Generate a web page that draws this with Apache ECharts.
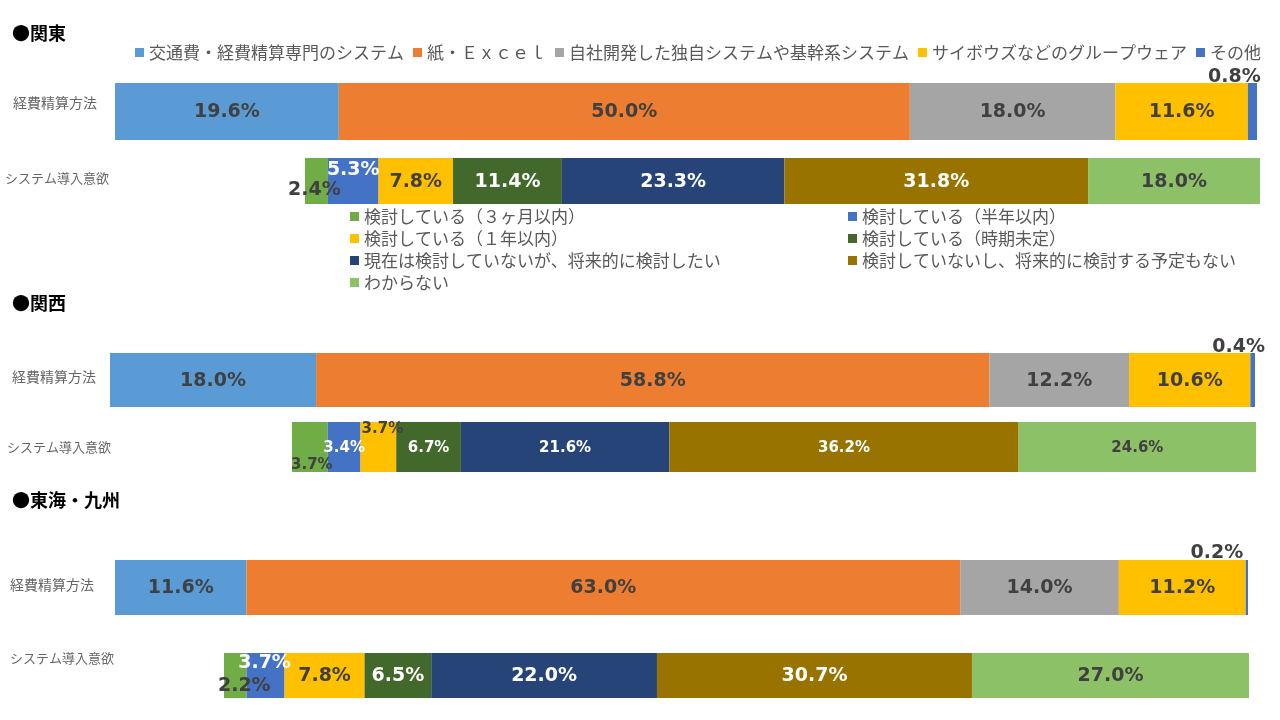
<!DOCTYPE html>
<html><head><meta charset="utf-8">
<script src="https://cdn.jsdelivr.net/npm/echarts@6/dist/echarts.min.js"></script>
<style>html,body{margin:0;padding:0;background:#fff}#c{width:1280px;height:720px}</style>
</head><body><div id="c"></div>
<script>
const regions = ['●関東', '●関西', '●東海・九州'];
const categories = ['経費精算方法', 'システム導入意欲'];
const methodNames = ['交通費・経費精算専門のシステム', '紙・Ｅｘｃｅｌ', '自社開発した独自システムや基幹系システム', 'サイボウズなどのグループウェア', 'その他'];
const intentNames = ['検討している（３ヶ月以内）', '検討している（半年以内）', '検討している（１年以内）', '検討している（時期未定）', '現在は検討していないが、将来的に検討したい', '検討していないし、将来的に検討する予定もない', 'わからない'];
const methodKanto = [19.6, 50.0, 18.0, 11.6, 0.8];
const methodKansai = [18.0, 58.8, 12.2, 10.6, 0.4];
const methodTokai = [11.6, 63.0, 14.0, 11.2, 0.2];
const intentKanto = [2.4, 5.3, 7.8, 11.4, 23.3, 31.8, 18.0];
const intentKansai = [3.7, 3.4, 3.7, 6.7, 21.6, 36.2, 24.6];
const intentTokai = [2.2, 3.7, 7.8, 6.5, 22.0, 30.7, 27.0];

const methodColors = ['#5B9BD5', '#ED7D31', '#A5A5A5', '#FFC000', '#4472C4'];
const intentColors = ['#70AD47', '#4472C4', '#FFC000', '#43682B', '#264478', '#997300', '#8CC168'];
const dark = '#404040', white = '#FFFFFF';
const methodLabelColors = [dark, dark, dark, dark, dark];
const intentLabelColors = [dark, white, dark, white, white, white, dark];

// layout: [left, top, width, height, labelX, labelDy, labelFontSize]
const layout = [
  [115, 83, 1142, 57, 13, -8.5, 19],
  [305, 158, 955, 46, 5, -3, 19],
  [110, 353, 1145, 54, 12, -3, 19],
  [292, 422, 965, 50, 7, 0, 15],
  [115, 560, 1133, 55, 10, -2.5, 19],
  [224, 653, 1026, 45, 10, -17.5, 19]
];
const titleTops = [24, 294, 491];
// offsets for labels of thin segments: [dx, dy, color]
const labelTweaks = {
  '0-4': [-18, -34, dark], '1-0': [-2, 9, dark], '1-1': [0, -11, white],
  '2-4': [-14, -33, dark], '3-0': [2, 18, dark], '3-2': [4, -18, dark],
  '4-4': [-30, -34, dark], '5-0': [9, 10.5, dark], '5-1': [-1, -12.5, white]
};

const barData = [methodKanto, intentKanto, methodKansai, intentKansai, methodTokai, intentTokai];
const grids = [], xAxes = [], yAxes = [], series = [];
layout.forEach((L, g) => {
  const isMethod = g % 2 === 0;
  grids.push({left: L[0], top: L[1], width: L[2], height: L[3], containLabel: false});
  xAxes.push({type: 'value', gridIndex: g, min: 0, max: 100, show: false});
  const dy = L[5];
  const lab = {
    align: 'left', margin: L[0] - L[4], color: '#666666',
    fontFamily: 'Noto Sans CJK JP', fontSize: isMethod ? 14 : 13
  };
  if (dy < 0) { lab.verticalAlign = 'bottom'; lab.lineHeight = -2 * dy; }
  else if (dy > 0) { lab.verticalAlign = 'top'; lab.lineHeight = 2 * dy; }
  else { lab.verticalAlign = 'middle'; }
  yAxes.push({
    type: 'category', gridIndex: g, data: [categories[isMethod ? 0 : 1]],
    axisLine: {show: false}, axisTick: {show: false}, splitLine: {show: false},
    axisLabel: lab
  });
  const names = isMethod ? methodNames : intentNames;
  const colors = isMethod ? methodColors : intentColors;
  const lcolors = isMethod ? methodLabelColors : intentLabelColors;
  barData[g].forEach((v, i) => {
    const tw = labelTweaks[g + '-' + i];
    const item = {value: v};
    if (tw) item.label = {offset: [tw[0], tw[1]], color: tw[2]};
    series.push({
      name: names[i], type: 'bar', xAxisIndex: g, yAxisIndex: g, stack: 's' + g,
      barWidth: '100%', itemStyle: {color: colors[i]},
      label: {
        show: true, position: 'inside', color: lcolors[i], offset: [0, 1],
        fontFamily: 'DejaVu Sans', fontWeight: 'bold', fontSize: L[6],
        formatter: p => p.value.toFixed(1) + '%'
      },
      data: [item]
    });
  });
});

const legendText = {color: '#595959', fontSize: 17, fontFamily: 'Noto Sans CJK JP'};
const option = {
  animation: false,
  backgroundColor: '#fff',
  title: regions.map((r, i) => ({
    text: r, left: 12, top: titleTops[i], padding: 0,
    textStyle: {fontSize: 18, fontWeight: 'bold', color: '#000', fontFamily: 'Noto Sans CJK JP'}
  })),
  legend: [
    {data: methodNames, left: 135, top: 44, padding: 0, itemGap: 9, itemWidth: 9, itemHeight: 9,
     icon: 'rect', textStyle: legendText, selectedMode: false},
    {data: [intentNames[0], intentNames[2], intentNames[4], intentNames[6]], orient: 'vertical',
     left: 350, top: 208, padding: 0, itemGap: 5, itemWidth: 9, itemHeight: 9,
     icon: 'rect', textStyle: legendText, selectedMode: false},
    {data: [intentNames[1], intentNames[3], intentNames[5]], orient: 'vertical',
     left: 848, top: 208, padding: 0, itemGap: 5, itemWidth: 9, itemHeight: 9,
     icon: 'rect', textStyle: legendText, selectedMode: false}
  ],
  grid: grids, xAxis: xAxes, yAxis: yAxes, series: series
};
echarts.init(document.getElementById('c')).setOption(option);
</script></body></html>
